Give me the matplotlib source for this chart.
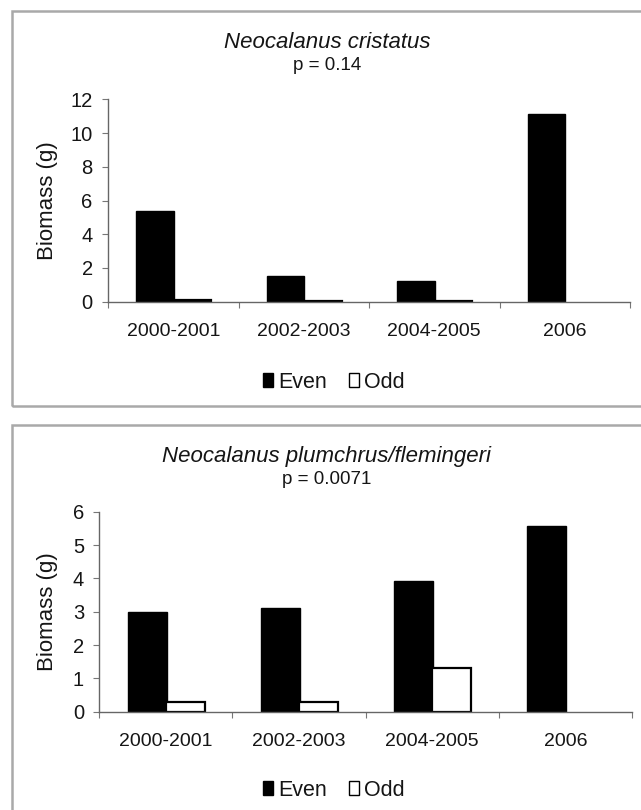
import matplotlib
matplotlib.use("Agg")
import matplotlib.pyplot as plt
import numpy as np
from matplotlib.patches import Rectangle, Patch

plt.rcParams['font.family'] = ['Liberation Sans', 'DejaVu Sans']

categories = ["2000-2001", "2002-2003", "2004-2005", "2006"]

cristatus_even = [5.35, 1.52, 1.24, 11.15]
cristatus_odd = [0.08, 0.05, 0.06, np.nan]

plumchrus_even = [2.98, 3.10, 3.93, 5.57]
plumchrus_odd = [0.29, 0.30, 1.32, np.nan]

titles = ["Neocalanus cristatus", "Neocalanus plumchrus/flemingeri"]
pvalues = ["p = 0.14", "p = 0.0071"]
ylims = [(0, 12), (0, 6)]
yticks = [np.arange(0, 13, 2), np.arange(0, 7, 1)]

W, H = 641, 810
fig = plt.figure(figsize=(W / 100, H / 100), dpi=100)

def fx(px):
    return px / W

def fy(py):
    return 1 - py / H

# panel frames (gray boxes)
frame_col = "#a9a9a9"
fig.patches.append(Rectangle((fx(12), fy(406)), 1.2, fy(11) - fy(406),
                             transform=fig.transFigure, fill=False,
                             edgecolor=frame_col, linewidth=1.8))
fig.patches.append(Rectangle((fx(12), fy(830)), 1.2, fy(425) - fy(830),
                             transform=fig.transFigure, fill=False,
                             edgecolor=frame_col, linewidth=1.8))

axes_px = [
    (108, 630, 99.3, 301.7),
    (99.3, 632, 511.7, 711.7),
]
title_y = [(43, 65), (456, 480)]
legend_y = [382, 790]

data = [(cristatus_even, cristatus_odd), (plumchrus_even, plumchrus_odd)]

txtcol = "#151515"
x = np.arange(len(categories))
w = 0.29

for i in range(2):
    l, r, t, b = axes_px[i]
    ax = fig.add_axes([fx(l), fy(b), fx(r) - fx(l), fy(t) - fy(b)])
    even, odd = data[i]
    ax.bar(x - 0.14, even, width=w, color="black", edgecolor="black", linewidth=1.0)
    ax.bar(x + 0.145, odd, width=w, color="white", edgecolor="black", linewidth=1.6)
    ax.set_xlim(-0.5, 3.5)
    ax.set_ylim(*ylims[i])
    ax.set_yticks(yticks[i])
    ax.set_yticklabels([str(v) for v in yticks[i]], fontsize=14.5, color=txtcol)
    ax.set_xticks([-0.5, 0.5, 1.5, 2.5, 3.5])
    ax.set_xticklabels([])
    ax.set_xticks(x, minor=True)
    ax.set_xticklabels(categories, minor=True, fontsize=14, color=txtcol)
    ax.tick_params(axis='x', which='minor', length=0, pad=15)
    ax.tick_params(axis='x', which='major', length=4, width=0.8, color="#777777", direction='out')
    ax.tick_params(axis='y', length=4, width=0.8, color="#777777", direction='out', pad=7)
    for s in ["top", "right"]:
        ax.spines[s].set_visible(False)
    for s in ["left", "bottom"]:
        ax.spines[s].set_color("#666666")
        ax.spines[s].set_linewidth(1.0)
    ax.set_ylabel("Biomass (g)", fontsize=16, color=txtcol)
    ax.yaxis.set_label_coords((fx(58) - fx(l)) / (fx(r) - fx(l)), 0.5)

    fig.text(fx(327), fy(title_y[i][0]), titles[i], style="italic", fontsize=16,
             ha="center", va="center", color=txtcol)
    fig.text(fx(327), fy(title_y[i][1]), pvalues[i], fontsize=13.5,
             ha="center", va="center", color=txtcol)

    handles = [Patch(facecolor="black", edgecolor="black"),
               Patch(facecolor="white", edgecolor="black", linewidth=1.0)]
    fig.legend(handles, ["Even", "Odd"], loc="center",
               bbox_to_anchor=(fx(334), fy(legend_y[i])), ncol=2, frameon=False,
               fontsize=15.5, handlelength=0.45, handleheight=0.65,
               handletextpad=0.25, columnspacing=1.0, labelcolor=txtcol)

fig.savefig("out.png", dpi=100, facecolor="white")
